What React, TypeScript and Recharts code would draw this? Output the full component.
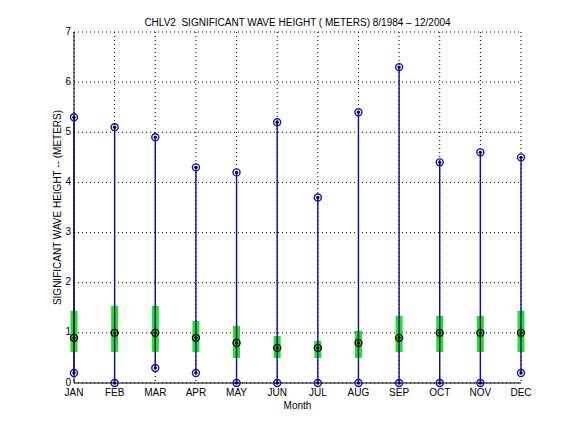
import React from 'react';
import {
	ComposedChart,
	Scatter,
	ErrorBar,
	XAxis,
	YAxis,
	CartesianGrid,
	Label,
} from 'recharts';

const months = ['JAN', 'FEB', 'MAR', 'APR', 'MAY', 'JUN', 'JUL', 'AUG', 'SEP', 'OCT', 'NOV', 'DEC'];
const maxHeight = [5.3, 5.1, 4.9, 4.3, 4.2, 5.2, 3.7, 5.4, 6.3, 4.4, 4.6, 4.5];
const minHeight = [0.2, 0, 0.3, 0.2, 0, 0, 0, 0, 0, 0, 0, 0.2];
const medianHeight = [0.9, 1.0, 1.0, 0.9, 0.8, 0.7, 0.7, 0.8, 0.9, 1.0, 1.0, 1.0];
const lowerQuartile = [0.62, 0.62, 0.62, 0.62, 0.5, 0.5, 0.5, 0.5, 0.62, 0.62, 0.62, 0.62];
const upperQuartile = [1.44, 1.54, 1.54, 1.24, 1.14, 0.94, 0.84, 1.04, 1.34, 1.34, 1.34, 1.44];
const yTicks = [0, 1, 2, 3, 4, 5, 6, 7];

const monthIdx = months.map((_, i) => i);

const medianPts = months.map((_, i) => ({
	m: i,
	v: medianHeight[i],
	box: [medianHeight[i] - lowerQuartile[i], upperQuartile[i] - medianHeight[i]],
	whisker: [medianHeight[i] - minHeight[i], maxHeight[i] - medianHeight[i]],
}));
const maxPts = months.map((_, i) => ({ m: i, v: maxHeight[i] }));
const minPts = months.map((_, i) => ({ m: i, v: minHeight[i] }));

const font = '"Liberation Sans", Arial, Helvetica, sans-serif';

const ringMarker = (color: string) => (props: any) => {
	const { cx, cy } = props;
	return (
		<g>
			<circle cx={cx} cy={cy} r={3.5} fill='none' stroke={color} strokeWidth={1.4} />
			<circle cx={cx} cy={cy} r={1.7} fill='#000020' />
		</g>
	);
};

const nothing = () => <g />;

const YLabel = (props: any) => {
	const { viewBox } = props;
	const cx = viewBox.x + 14;
	const cy = viewBox.y + viewBox.height / 2;
	return (
		<text
			x={cx}
			y={cy}
			transform={`rotate(-90 ${cx} ${cy})`}
			textAnchor='middle'
			dominantBaseline='middle'
			fontSize={10}
			fontFamily={font}
			fill='#000'
		>
			SIGNIFICANT WAVE HEIGHT -- (METERS)
		</text>
	);
};

const App = () => {
	return (
		<div style={{ position: 'absolute', left: 0, top: 0, width: 576, height: 432, background: '#fff' }}>
			<div
				style={{
					position: 'absolute',
					left: 74,
					width: 447,
					top: 16,
					textAlign: 'center',
					fontFamily: font,
					fontSize: 10,
					lineHeight: '14px',
					color: '#000',
					whiteSpace: 'pre',
				}}
			>
				{'CHLV2  SIGNIFICANT WAVE HEIGHT ( METERS) 8/1984 \u2013 12/2004'}
			</div>
			<ComposedChart width={576} height={432} margin={{ top: 32, right: 55, bottom: 19, left: 44 }}>
				<CartesianGrid stroke='#000' strokeDasharray='1 3' strokeWidth={1} />
				<XAxis
					type='number'
					dataKey='m'
					domain={[0, 11]}
					ticks={monthIdx}
					tickFormatter={(i: number) => months[i]}
					interval={0}
					height={30}
					tickLine={false}
					tickSize={0}
					tickMargin={6}
					axisLine={{ stroke: '#000' }}
					tick={{ fill: '#000', fontSize: 10, fontFamily: font }}
				>
					<Label value='Month' position='insideBottom' offset={4} fontSize={10} fontFamily={font} fill='#000' />
				</XAxis>
				<YAxis
					type='number'
					dataKey='v'
					domain={[0, 7]}
					ticks={yTicks}
					width={30}
					tickLine={false}
					tickSize={0}
					tickMargin={3}
					axisLine={{ stroke: '#000' }}
					tick={{ fill: '#000', fontSize: 10, fontFamily: font, dy: -1 }}
				>
					<Label content={<YLabel />} />
				</YAxis>
				<Scatter data={medianPts} shape={nothing} isAnimationActive={false}>
					<ErrorBar dataKey='box' direction='y' width={0} stroke='#22e022' strokeWidth={7} isAnimationActive={false} />
				</Scatter>
				<Scatter data={medianPts} shape={nothing} isAnimationActive={false}>
					<ErrorBar dataKey='whisker' direction='y' width={0} stroke='#0a0aa8' strokeWidth={1.4} isAnimationActive={false} />
				</Scatter>
				<Scatter data={maxPts} shape={ringMarker('#1010c0')} isAnimationActive={false} />
				<Scatter data={minPts} shape={ringMarker('#1010c0')} isAnimationActive={false} />
				<Scatter data={medianPts} shape={ringMarker('#000')} isAnimationActive={false} />
			</ComposedChart>
		</div>
	);
};

export default App;
